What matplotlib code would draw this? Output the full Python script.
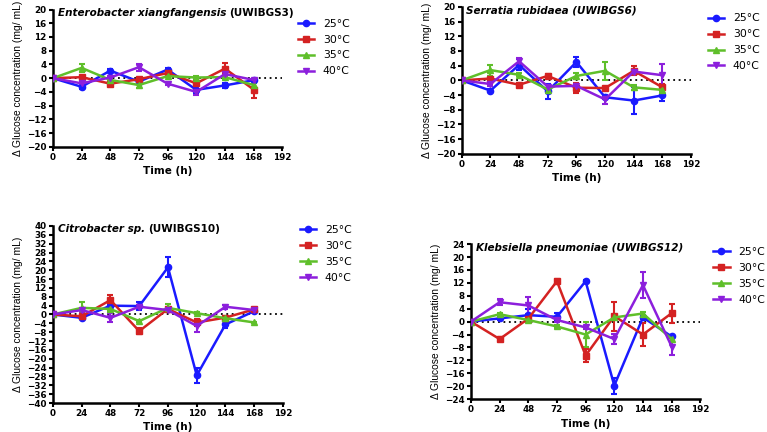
import numpy as np
import matplotlib
matplotlib.use("Agg")
import matplotlib.pyplot as plt
from matplotlib.lines import Line2D

plt.rcParams['font.family'] = ['DejaVu Sans']

time_h = [0, 24, 48, 72, 96, 120, 144, 168]
temps = ["25°C", "30°C", "35°C", "40°C"]
colors = ["#1a1aff", "#d42222", "#5fbf2a", "#8c1fdc"]
markers = ["o", "s", "^", "v"]

# Enterobacter xiangfangensis (UWIBGS3)
ent_mean = [
    [0, -2.5, 2.2, -1.0, 2.5, -3.4, -2.1, -0.6],
    [0, 0.3, -1.6, -0.3, 1.5, -1.5, 2.8, -3.3],
    [0, 3.0, -0.5, -2.0, 0.6, 0.2, 0.3, -2.0],
    [0, -1.5, 0.2, 3.2, -1.6, -4.0, 1.2, -0.5],
]
ent_err = [
    [0, 0.6, 0.5, 0.5, 0.6, 1.0, 0.8, 0.4],
    [0, 0.4, 0.5, 0.4, 0.4, 0.6, 1.5, 2.5],
    [0, 1.2, 0.3, 0.9, 0.3, 0.3, 0.4, 0.5],
    [0, 0.6, 0.4, 1.0, 0.4, 1.0, 0.6, 0.4],
]

# Serratia rubidaea (UWIBGS6)
ser_mean = [
    [0, -2.8, 4.2, -3.0, 5.0, -4.6, -5.5, -4.1],
    [0, 0.5, -1.2, 1.2, -2.0, -2.1, 2.6, -1.9],
    [0, 2.8, 1.5, -2.5, 1.2, 2.6, -1.9, -2.6],
    [0, -1.0, 5.2, -1.7, -1.5, -5.2, 2.4, 1.4],
]
ser_err = [
    [0, 0.4, 1.5, 2.0, 1.3, 0.5, 3.7, 1.5],
    [0, 1.8, 0.6, 0.6, 1.4, 0.4, 1.2, 0.8],
    [0, 1.5, 0.4, 0.5, 0.9, 2.5, 0.6, 0.5],
    [0, 0.5, 0.8, 0.5, 0.5, 1.2, 0.5, 3.0],
]

# Citrobacter sp. (UWIBGS10)
cit_mean = [
    [0, -1.5, 4.0, 3.8, 21.3, -27.5, -4.5, 1.5],
    [0, -0.8, 6.5, -7.5, 2.5, -3.6, -1.4, 2.3],
    [0, 3.0, 2.5, -3.0, 3.0, 0.6, -1.7, -3.6],
    [0, 2.0, -1.5, 3.5, 2.0, -5.2, 3.5, 2.0],
]
cit_err = [
    [0, 0.6, 0.8, 1.8, 4.5, 3.5, 1.5, 0.5],
    [0, 0.5, 2.5, 1.2, 0.8, 1.5, 0.6, 0.6],
    [0, 2.5, 1.0, 0.5, 1.8, 0.5, 0.5, 0.4],
    [0, 1.0, 2.0, 0.6, 0.6, 2.5, 1.0, 0.6],
]

# Klebsiella pneumoniae (UWIBGS12)
kle_mean = [
    [0, 1.0, 2.0, 1.5, 12.5, -19.8, 1.3, -4.6],
    [0, -5.4, 0.9, 12.5, -10.5, 1.7, -4.0, 2.6],
    [0, 2.3, 0.5, -1.5, -4.0, 1.3, 2.5, -5.4],
    [0, 6.0, 5.0, 0.5, -1.8, -5.4, 11.3, -7.7],
]
kle_err = [
    [0, 0.4, 1.8, 1.2, 0.4, 2.5, 0.6, 0.6],
    [0, 0.5, 0.8, 0.8, 2.0, 4.5, 3.5, 3.0],
    [0, 0.4, 0.4, 0.6, 4.0, 0.5, 0.5, 1.0],
    [0, 1.0, 2.5, 0.6, 0.6, 1.5, 4.0, 2.5],
]

panels = [
    # axes rect, ylim, title parts, data, legend anchor (fig coords)
    ([0.069, 0.660, 0.299, 0.318], 20,
     [("Enterobacter xiangfangensis ", "italic"), ("(UWIBGS3)", "normal")],
     ent_mean, ent_err, (0.3885, 0.957)),
    ([0.602, 0.644, 0.299, 0.340], 20,
     [("Serratia rubidaea (UWIBGS6)", "italic")],
     ser_mean, ser_err, (0.923, 0.969)),
    ([0.069, 0.067, 0.300, 0.410], 40,
     [("Citrobacter sp. ", "italic"), ("(UWIBGS10)", "normal")],
     cit_mean, cit_err, (0.391, 0.480)),
    ([0.614, 0.076, 0.299, 0.359], 24,
     [("Klebsiella pneumoniae (UWIBGS12)", "italic")],
     kle_mean, kle_err, (0.930, 0.429)),
]

handles = [Line2D([], [], color=c, marker=m, ms=4.5, lw=1.8) for c, m in zip(colors, markers)]

fig = plt.figure(figsize=(7.67, 4.32), dpi=100)

for rect, ylim, title, means, errs, leg_pos in panels:
    ax = fig.add_axes(rect)
    ax.axhline(0, color="black", ls=(0, (1, 2)), lw=1.3, zorder=1)
    for i in range(4):
        ax.errorbar(time_h, means[i], yerr=errs[i], color=colors[i],
                    marker=markers[i], ms=4.5, lw=1.8, elinewidth=1.5,
                    capsize=2.5, capthick=1.5, zorder=3)
    ax.set_xlim(0, 192)
    ax.set_ylim(-ylim, ylim)
    ax.set_xticks(np.arange(0, 193, 24))
    ax.set_yticks(np.arange(-ylim, ylim + 1, 4))
    ax.spines["top"].set_visible(False)
    ax.spines["right"].set_visible(False)
    ax.spines["left"].set_linewidth(1.8)
    ax.spines["bottom"].set_linewidth(1.8)
    ax.tick_params(width=1.5, length=3, labelsize=6.3, pad=1.5)
    for lab in ax.get_xticklabels() + ax.get_yticklabels():
        lab.set_fontweight("bold")
    ax.set_xlabel("Time (h)", fontsize=7.5, fontweight="bold", labelpad=3)
    ax.set_ylabel("Δ Glucose concentration (mg/ mL)", fontsize=7.4,
                  family="Liberation Sans", labelpad=3)

    # title inside axes, mixed italic / upright
    txt = None
    for s, style in title:
        if txt is None:
            txt = ax.text(0.02, 1.01, s, transform=ax.transAxes, fontsize=7.5,
                          fontweight="bold", fontstyle=style, va="top", ha="left")
        else:
            txt = ax.annotate(s, xycoords=txt, xy=(1, 0), va="bottom", ha="left",
                              fontsize=7.5, fontweight="bold", fontstyle=style)

    ax.legend(handles, temps, loc="upper left", bbox_to_anchor=leg_pos,
              bbox_transform=fig.transFigure, frameon=False, fontsize=7.8,
              handlelength=1.5, handletextpad=0.8, labelspacing=0.55,
              borderaxespad=0, borderpad=0)

fig.savefig("out.png", dpi=100)
